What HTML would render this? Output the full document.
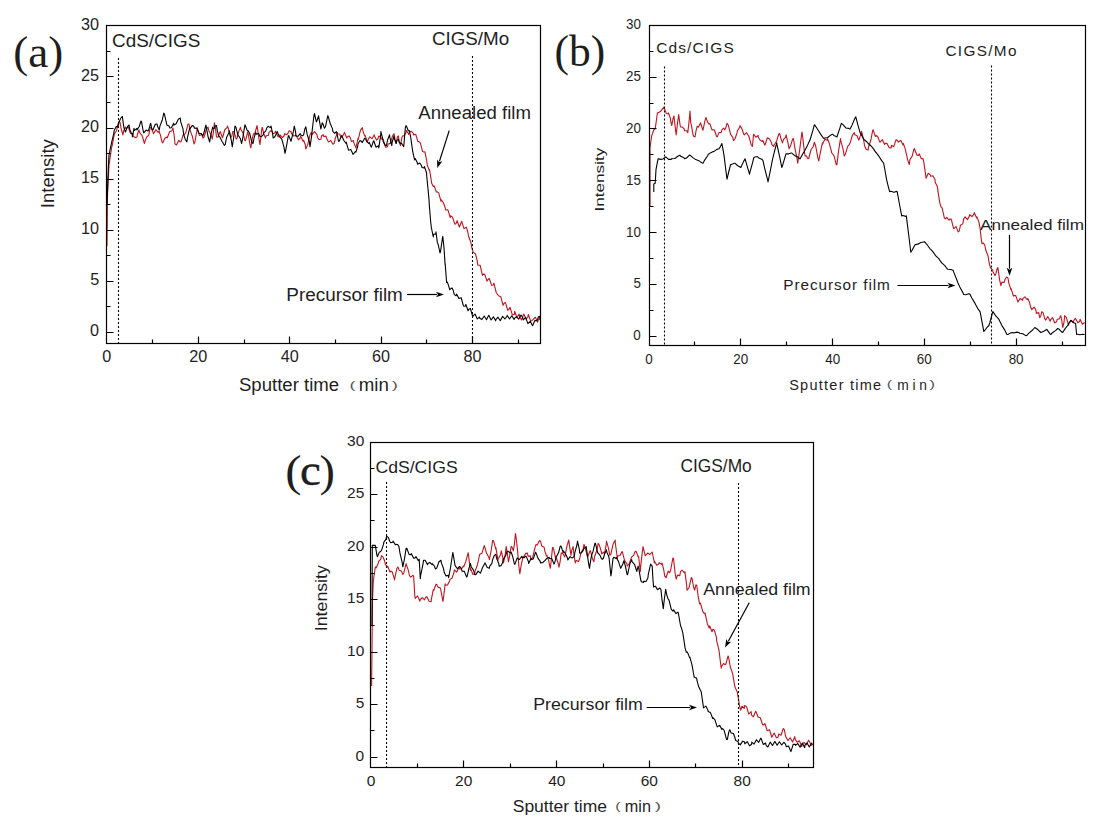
<!DOCTYPE html>
<html><head><meta charset="utf-8"><title>Sputter depth profiles</title>
<style>html,body{margin:0;padding:0;background:#fff;}svg{display:block;}text{white-space:pre;}</style>
</head><body>
<svg width="1103" height="827" viewBox="0 0 1103 827">
<rect width="1103" height="827" fill="#fff"/>
<path d="M107 246 107.3 220 107.5 195 109 165 109.8 159.67 112 145 112.1 146.21 114.4 133.63 115 133 116.7 130.19 118 124 119 121.37 120 122 121.3 129.32 123 135 123.6 131.19 125.4 127 125.9 128.5 128.2 126.86 129 129 130.5 133.49 132.8 133.55 133 136 135.1 137.62 137 137 137.4 134.2 139 130 139.7 132.77 142 135.07 144 142 144.3 143.51 146.6 137.08 148 136 148.9 134.77 150 128 151.2 127.25 153 132 153.5 133.82 155.8 129.69 158.1 132.34 159 131 160.4 135.15 162 142 162.7 143.02 165 137.95 167 137 167.3 137.78 169.6 131.79 171.9 130.65 173 128 174.2 135.97 175 144 176.5 144.99 178.8 140.31 180 142 181.1 141.78 183.4 134.17 184 135 185.7 132.94 188 124.29 189 124 190.3 130.82 192.6 137.04 194 144 194.9 142.2 197 130 197.2 127.87 199.5 135.5 201.8 134.42 203 138 204.1 136.99 206.4 129.23 208 127 208.7 130.41 211 134.65 212.2 139.2 213.3 133.11 214.4 122.9 215.6 129.42 216.5 137 217.9 137.31 219.8 132.6 220.2 131.51 222.5 137.81 223 136 224.8 129.73 227.1 127.64 227.4 126 229.4 131.4 230.7 137 231.7 136.7 232.8 131.6 234 131.71 236.3 139.06 237.2 138 238.6 131.89 240.5 127.2 240.9 129.48 243.2 133.56 244.8 140.3 245.5 140.7 247.8 131.73 248 132.6 250.1 145.16 250.8 147.9 252.4 138.05 253.5 133.7 254.7 134 257 125.66 257.3 127.2 259.3 141.22 260 144.6 261.6 130.63 262.2 127.2 263.9 133.87 265.5 138 266.2 135.81 268.5 135.2 268.8 132.6 270.8 130.76 272 131.6 273.1 133.7 275.3 132.6 275.4 131.1 277.7 136.29 279.6 137 280 134.9 282.3 137.53 284 136 284.6 133.64 286.9 134.83 288.3 132.6 289.2 130.7 291 131.6 291.5 133.65 293.8 136 296.1 135.37 297 137 298.4 139.78 300.3 138 300.7 136.16 303 141.28 303.6 140.3 305.3 144.79 305.8 149 307.6 145.13 308.5 141.3 309.9 135.26 311.2 132.6 312.2 134.49 314.5 131.6 316.8 134.32 317.7 138 319.1 139.61 321 139.2 321.4 136.05 323.3 134.8 323.7 136.47 326 136.17 326.5 138 328.3 141.87 329.8 141.3 330.6 140.28 332.9 144.27 334.1 143.5 335.2 138.8 337.4 132.6 337.5 133.82 339.8 134 340.7 137 342.1 136.87 343.9 133.7 344.4 132.37 346.7 138 347.2 137 349 135.93 350.5 138 351.3 141.44 353.6 140.61 353.7 142.4 355.9 147.9 358.1 138 358.2 139.55 360.5 130.04 362.4 127.7 362.8 130.41 364.6 135.9 365.1 135.38 367.4 141.9 367.9 140.3 369.7 136.81 371.1 137.9 372 138.67 374.3 134.73 374.4 135.9 376.6 140.12 377.7 139.2 378.9 136.06 380.9 137 381.2 138.83 383.5 139.79 384.2 143.5 385.8 147.33 387.5 146.8 388.1 143.94 390.4 143.38 390.7 141.3 392.7 135.58 394 133.7 395 139.17 396.2 143.5 397.3 137.17 398.3 135.9 399.6 142.99 400.5 145.7 401.9 137.49 402.7 135.9 404.2 135.73 406 132.6 406.5 130.45 408.8 134.42 409.2 132.6 411.1 131.08 413.3 133.3 413.4 135.07 415.7 134.26 418 141.81 418.6 141.3 420.3 142.95 422.6 151.58 424 152 424.9 151.85 426.6 160 427.2 164.82 429.3 170.6 429.5 169.58 431.8 183.58 433.3 186.5 434.1 185.91 436.4 192 437.3 191.9 438.7 192.87 441 201.34 441.3 199.8 443.3 202.51 445.2 207.8 445.6 210.01 447.9 209.81 450.2 217.59 450.6 215.8 452.5 217.14 454.8 224.11 455.9 223.8 457.1 220.81 459.4 226.96 461.7 221.26 462.5 223.8 464 228.67 466.3 227.13 467.8 231.8 468.6 236.47 470.9 242.55 471.9 247.8 473.2 252.35 475.5 253.74 477.2 261 477.8 265.14 480.1 265.2 482.4 275.47 482.5 274.4 484.7 274.1 487 281.11 487.8 279.7 489.3 278.49 491.6 285.32 493.2 285 493.9 283.21 496.2 292.48 498.5 295.7 500.8 296.84 503.1 305.34 503.8 303.7 505.4 302.29 507.7 310.3 509.1 309 510 307.25 512.3 314.94 514.5 314.3 514.6 311.31 516.9 317.48 519.2 314.1 519.8 317 521.5 320.01 523.8 314.05 526.1 319.08 527.8 317 528.4 314.5 530.7 321.39 533 319.6 535.3 317.22 537.6 322.08 538.4 319.6 539.9 317.96 540 320" fill="none" stroke="#c2141e" stroke-width="1.1" stroke-linejoin="round"/>
<path d="M107 205 108 175 109 155 109.3 153.5 110 150 111.5 143 111.6 142.52 113.9 132.85 114 131 116.2 126.48 117 127 118.5 124.85 119 122 120.8 118.12 122.4 116.5 123.1 122.34 124 128 125.4 132 127.7 126.28 129 125 130 130.41 130.4 131 132.3 134.93 132.4 137 134 128.4 134.6 130.35 136.9 128.42 137 130 139.2 126.52 141 121 141.5 121.7 143.4 132 143.8 132.89 146.1 130.08 148 131 148.4 130.83 150.4 124 150.7 123.24 152 130 153 129.67 155.3 124.26 157 124 157.6 126.45 159.3 130 159.9 126.11 162.2 120.25 163.8 113 164.5 114.35 166.3 122.4 166.8 125.01 169.1 126.06 169.8 128 171.4 127.67 173.7 123.18 173.8 125 176 124.04 178.3 119.24 180.3 118 180.6 121.44 182.9 128.69 183.8 135 185.2 139.2 186.8 142 187.5 137.31 189.7 128 189.8 128.91 192.1 125.62 193.7 126 194.4 128.25 196.7 128 197.7 130 199 133.2 201.3 133.46 202.7 136 203.6 134.01 205.7 126 205.9 125.02 208.2 137.28 209.7 142 210.5 136.7 212.7 127 212.8 128.59 214.4 128.3 215.1 126.03 216.5 125.6 217.4 131.12 218.7 136 219.7 136.77 222 141.3 224.3 145.34 225.2 144.6 226.6 137.44 228.9 132.84 229 130.5 231.2 139.77 232.3 146.8 233.5 138.78 235 126 235.8 126.87 238.1 135.79 238.8 136 240.4 138.68 241.6 143.5 242.7 138.28 244.8 125.6 245 124.82 247.3 130.66 248 130.5 249.6 133.25 251.9 142.41 253 143.5 254.2 137.26 255.7 132.6 256.5 134.15 258.8 133.59 259.5 136 261.1 136.81 263.3 134.8 263.4 133.18 265.7 131.14 266.6 128.3 268 126.26 270.3 127.63 271 126 272.6 133.42 273.1 138 274.9 136.71 277.2 131.51 277.5 132.6 279.5 136.68 281.8 139.2 284.1 147.7 285 153.3 286.4 146.8 288.3 136 288.7 135.65 291 141.3 293.3 131.85 294.3 126 295.6 132.08 296 136 297.9 136.33 300.2 133.48 300.3 134.8 302.5 135.85 303.6 134.8 304.8 129.24 305.8 126.7 307.1 134.16 308 137 309.4 141.91 310 146.8 311.7 135.32 312.3 129.4 314 115.24 314.5 113.6 316.3 121.63 316.6 121.8 318.6 115.89 318.8 117.4 320.9 129.04 321 128.3 322.2 122.9 323.2 124.33 324.4 128.3 325.5 126.52 327.8 115.67 328.2 116.3 330.1 123.23 330.9 125 332.4 128.59 333 131.6 334.7 133.32 336.3 131.6 337 133.48 338.5 141.3 339.3 141.11 341.6 135.51 341.8 136 343.9 140.51 346.1 143.5 346.2 142.15 348.5 150.21 349.4 150 350.8 149.45 352.6 153.3 353.1 154.54 355.4 151.54 355.9 152.2 357.7 146.27 358.1 143.5 360 140.45 361.3 141.3 362.3 142.62 364.6 138.16 365.7 139.2 366.9 141.84 369 143.5 369.2 142.38 371.1 146.8 371.5 147.17 373.3 141.3 373.8 140.75 375.5 145.7 376.1 147.22 378.4 145.7 378.8 147.9 380.7 135.03 380.9 131.6 383 139.86 383.1 141.3 385.3 145.38 386.4 145.7 387.6 139.76 389.6 134.8 389.9 137.42 391.8 145.7 392.2 142 394 136 394.5 139.12 396.2 143.5 396.8 140.64 398.3 139.2 399.1 142.41 400.5 143.5 401.4 143.04 403.7 146.78 403.8 145.7 405.3 128 406 125.68 406.5 126.1 408.3 130.77 409.3 130.6 410.6 136.51 412 146.6 412.9 152.29 414.6 160 415.2 158.53 417.3 162.6 417.5 164.16 419.8 163.03 421.3 165.2 422.1 167.48 424 168 424.4 166.6 426.6 173 426.7 175.76 428 189 429 199.6 429.3 205 430.6 221 431.3 227.24 433.3 237 433.6 234.27 435.9 233.88 436 231.8 437.3 242.4 438.2 244.5 440 253 440.5 251.58 442.6 237 442.8 236.47 444 247.8 445.1 264.65 445.2 263.7 446.6 282.4 447.4 282.09 449.2 287.7 449.7 289.61 452 287.91 453.2 290.3 454.3 294.61 456 295.7 456.6 294.13 458.9 298.43 460 298 461.2 297.77 463.5 306.04 465.2 306.3 465.8 304.42 468.1 310.7 469.2 309 470.4 308.52 472.7 316.65 473.2 315.6 475 314.07 477.3 318.91 479.6 317.02 479.8 318.3 481.9 319.55 484.2 316.06 486.5 319.71 487.8 317 488.8 315.21 491.1 319.96 493.4 316.81 495.7 320.8 495.8 319.6 498 317.19 500.3 320.64 502.6 316.29 504.9 318.81 506.5 317 507.2 315.44 509.5 319.03 511.8 315.75 514.1 319.5 514.5 318.3 516.4 316.81 518.7 319.14 521 315.1 522.4 317 523.3 319.9 525.6 317.35 527.9 323.65 530.2 321.28 532.5 325.71 533 325 534.8 320.53 537.1 320.66 538.4 317 539.4 316.31 540 318" fill="none" stroke="#000000" stroke-width="1.1" stroke-linejoin="round"/>
<path d="M650 206 650 148 651.6 136.2 652.3 134.13 653.8 129.7 654.6 129.3 655.2 129 656.9 116.64 657.4 113 659.2 112.13 660.3 111.6 661.5 110.13 663.8 107.32 663.9 107.2 666 112.4 666.1 113.47 668.2 113.9 668.4 112.83 670.4 118.2 670.7 121.22 671.8 125.5 673 118.68 674 116 675.3 128.09 676.2 134.9 677.6 122.56 678.7 114.6 679.9 123.75 680.5 127 682.2 126.96 684.2 129 684.5 130.82 686.8 130.81 687.8 132.7 689.1 121.17 690 111 690.7 122.6 691.4 125.34 692.9 134.2 693.7 136.3 695 137 696 130.9 697.2 126.2 698.3 127.17 700.6 122.8 700.9 124 702.9 130.26 703 129.8 705.2 119.76 706 117.5 707.5 121.86 708.8 124 709.8 123.66 712.1 129.94 713.2 129.8 714.4 130.05 716.7 136.78 717.5 136.4 719 132.63 721.3 132.45 721.9 129.8 723.6 128.22 724.8 129.8 725.9 127.55 727 123.3 728.2 124.97 729.9 131.3 730.5 134.11 732.8 137.34 733.5 140.7 735.1 138.47 737.1 132.7 737.4 130.77 739.7 127.36 740 125.5 742 129.02 743.7 134.2 744.3 134.95 746.6 132.7 748.9 136.45 749.5 138.5 751.2 144.79 752.4 146.5 753.5 135.25 753.8 134.2 755.8 137.26 758.1 135.47 758.2 137 760.4 140.57 762.5 141.4 762.7 140.2 764.7 145 765 145.03 767.3 137.8 769.6 139.08 771.6 142.9 771.9 144.59 773.8 146.5 774.2 144.69 776.5 141.39 778.8 134.01 779.6 133.5 781.1 139.36 782.5 142.9 783.4 139.68 785.7 137.16 786.1 134.9 788 142.79 789 148.7 790.3 146.55 792.6 139.1 793.4 138.5 794.9 148.09 797.2 159.35 797.7 163.2 799.5 151.37 801.8 133.01 802.1 132 804.1 149.28 805 155.9 806.4 155.88 807.9 158.8 808.7 158.51 811 149.74 813.3 146.51 814.4 142.2 815.6 145.6 817.9 157.92 818.8 161 820.2 153.09 822.4 142.9 822.5 144.4 824.8 139.2 827.1 140.26 827.5 138.5 829.4 143.73 831.1 150.1 831.7 152.77 834 155.69 836.3 164.78 836.9 164.6 838.6 150.69 840.5 138.5 840.9 141.32 843.2 149.56 844.2 155.9 845.5 153.97 847.8 145.95 848.5 145.8 850.1 143.05 852.4 135.22 854.3 132.7 854.7 134.74 857 135.68 858.7 140 859.3 139.15 861.6 131.3 863.9 141.41 864.5 145.8 866.2 149.18 868.1 150.1 868.5 147.03 870.8 140.29 872.5 131.3 873.1 129.67 875.4 136.46 876.1 135.6 877.7 136.49 879.1 140.3 880 142.16 882.3 139.68 884.6 144.45 885.1 143.4 886.9 143.23 889.2 147.66 891.2 147.9 891.5 145.32 893.8 146.66 896.1 139.66 897.2 140.3 898.4 142.1 900.7 140.22 903 144.94 903.3 143.4 905.3 149.16 907.6 159.65 909.3 164.5 909.9 159.69 912.2 156.09 913.8 149.4 914.5 148.7 916.8 154.95 918.4 155.5 919.1 153.84 921.4 158.75 922.9 158.5 923.7 161.42 925.9 176.6 926 178.3 928.3 173.3 930.5 175.1 930.6 176.33 932.9 175.82 935 179.6 935.2 182.36 937.5 186.93 938 191.7 939.8 202.81 941 206.9 942.1 207.85 944.4 218.01 945.6 218.9 946.7 217.28 949 220.07 950.1 218.9 951.3 219.36 953.6 228.63 954.6 228 955.9 226.49 958.2 231.9 959.2 231 960.5 225.24 962.8 223.87 963.7 218.9 965.1 216.82 967.4 219.61 969 216.9 969.7 214.76 972 216.63 974 213.9 974.3 212.6 976.6 217.96 977 216.9 978.9 222.09 980 227.8 981.2 238.58 982 243.8 983.5 243.01 985 245.8 985.8 250.33 988.1 256.04 988.9 261.7 990.4 267.58 992.7 270.07 992.9 271.7 995 275.52 995.9 273.7 997.3 268.06 997.9 267.7 999.6 279.83 1000.9 285.7 1001.9 282.15 1004.2 282.43 1004.9 279.7 1006.5 277.03 1007.9 277.7 1008.8 283.12 1010.9 289.6 1011.1 288.56 1013.4 296.02 1014.8 295.6 1015.7 295.42 1018 302.1 1018.8 300.6 1020.3 298.36 1022.6 300.33 1022.8 298.6 1024.9 296.83 1027.2 299.78 1027.8 298.6 1029.5 302.36 1030.8 307.6 1031.8 309.73 1034.1 307.06 1035.8 309.6 1036.4 313.39 1038.7 312.62 1039.8 317.6 1041 315.19 1041.8 311.6 1043.3 313.2 1044.7 318.6 1045.6 320.09 1047.9 316.66 1050.2 321.18 1050.7 319.6 1052.5 317.55 1054.8 322.93 1056.7 321.5 1057.1 319.58 1059.4 318.65 1060.7 315.6 1061.7 320.01 1062.7 327.5 1064 322.34 1064.7 315.6 1066.3 317.39 1068.6 325.23 1068.7 323.5 1070.9 320.48 1073.2 322.59 1073.7 320.6 1075.5 318.41 1077.8 322.7 1079.6 321.5 1080.1 319.27 1082.4 324.3 1084.6 322.5" fill="none" stroke="#c2141e" stroke-width="1.1" stroke-linejoin="round"/>
<path d="M653.8 192 653.8 184 655.2 183.3 656 169.6 656.8 165.45 658.1 158.7 659.8 159.11 661 159.4 662.8 159.06 663.2 158.7 665.8 156.94 666.1 157.2 668.8 159.64 669 159.4 671.2 159.4 671.8 158.72 674.8 158.51 675.5 158 677.8 156.23 679.8 155.2 680.8 156.33 683.8 157.63 684.9 158.8 686.8 157.75 689.8 154.94 690 155.2 692.8 157.64 695.8 159.6 698.8 160.67 701.8 162.84 703 163.2 704.8 159.86 707.8 155.48 708.1 154.5 710.8 152.66 713.2 151.6 713.8 151.58 716.8 149.36 719 148.7 719.8 147.68 721.9 143.6 722.8 148.39 724.1 155.9 725.8 169.92 727 179.2 728.8 171.5 730.6 164.6 731.8 164.38 734.2 163.2 734.8 163.2 737.8 165.78 740.8 167.5 743.8 161.13 745.1 158.8 746.8 164.94 749.5 174.1 749.8 172.67 752.8 161.78 753.8 157.4 755.8 156.69 757.4 156.7 758.8 158.11 761.8 159.25 762.9 160.3 764.8 168.77 767.8 180.69 768 182 770.8 168.28 772.3 160.3 773.8 154.13 776.7 142.9 776.8 143.76 779.8 157.46 781.8 167.5 782.8 164.57 785.8 154.53 786.1 153.8 788.8 153.84 791.2 153 791.8 153.05 794.8 155.69 795.5 155.9 797.8 157.08 799.9 158.8 800.8 157.59 803.8 151.98 804.3 151.6 806.8 146.86 809.8 140.18 810 140 812.8 130.71 814.4 124.7 815.8 126.57 818.8 131.3 821.8 135.9 823.8 138.5 824.8 137.95 827.8 137.56 828.2 137 830.8 135.07 832.5 134.2 833.8 135.39 836.8 136.71 836.9 137 839.8 128.31 841.3 123.3 842.8 124.39 845.6 127.6 845.8 128.03 848.8 128.35 850 129.1 851.8 125.63 854.8 118.59 855.8 116.8 857.8 124.57 860.1 132.7 860.8 133.63 863.8 139.18 864.5 140 866.8 141.78 869.8 145.18 870 144.9 872.8 147.92 875.8 152.37 876 152.4 878.8 156.06 881.8 160.9 883.6 163 884.8 169.27 886.6 179.6 887.8 184.65 889.6 191.7 890.8 191.29 893.8 192.18 896.8 191.37 897.2 191.7 899.8 205.99 901.7 215.9 902.8 215.53 905.8 216.38 906.3 215.9 908.8 235.79 910.8 252.2 911.8 250.8 914.8 245.19 915.3 244.6 917.8 244.16 920.8 242.45 923.8 242.07 924.4 241.6 926.8 244.27 929.8 248.54 930.5 249.2 932.8 251.62 935.8 255.94 938.8 258.6 939.5 259.8 941.8 262.81 944.8 265.6 947.1 268.8 947.8 269.28 950.8 269.45 953.1 270.3 953.8 272.35 956.8 279.79 957.7 282.4 959.8 286.89 962.8 292.42 963.7 294.5 965.8 294.79 968.8 293.8 969.8 294 971.8 297.97 974.8 302.85 975 303.6 977.8 308.56 980 311.6 980.8 315.39 983.8 331.42 983.9 331.5 986.8 327.71 988.9 325.5 989.8 322.74 992.8 311.57 992.9 311.6 995.8 315.95 998.8 319.04 998.9 319.6 1001.8 325.35 1004.8 330.14 1006.9 334.5 1007.8 334.5 1010.8 332.86 1012.8 332.5 1013.8 332.99 1016.8 332.14 1018.8 332.5 1019.8 333.31 1022.8 333.71 1025.8 335.6 1026.8 335.5 1028.8 333.12 1031.8 330.77 1034.8 327.5 1037.8 329.52 1040.8 332.5 1043.8 331.32 1046.7 329.5 1046.8 329.32 1049.8 333.65 1050.7 334.5 1052.8 332.47 1055.8 330.39 1057.7 328.5 1058.8 328.97 1061.8 332.02 1062.7 332.5 1064.8 329.1 1067.8 325.25 1070.7 320.6 1070.8 320.3 1073.8 322.75 1075.6 323.5 1076.6 334.5 1076.8 334.06 1079.8 334.78 1082.8 334.19 1084.6 334.5" fill="none" stroke="#000000" stroke-width="1.1" stroke-linejoin="round"/>
<path d="M371.6 686 372.5 600 373.3 581.3 373.9 577.01 375.3 567 376.2 567.93 378.4 562.8 378.5 561.67 380.8 559.08 381.5 555.6 383.1 557.2 384.6 560.8 385.4 564.64 387.6 567 387.7 566.23 390 572.14 390.7 571 392.3 572.03 394.6 579.86 394.8 578.2 396.9 568.41 397.9 567 399.2 570.16 401.5 571.11 402.8 574.4 403.8 572.94 406.1 563.6 408.4 570.64 409.4 575.5 410.7 577.06 413 575.24 413.7 576.6 414.8 596.2 415.3 598.51 417.6 595.85 419.9 601.19 420.3 599.5 422.2 597.55 424.5 599.89 425.7 597.3 426.8 596.62 429.1 601.21 431.2 601.7 431.4 599.08 433.3 589.7 433.7 590.47 436 584.22 436.6 584.2 438.3 587.53 439.9 587.5 440.6 589.01 442.9 601.41 443.1 600.6 445.2 583.89 445.3 585.3 447.5 584.88 449.7 581 449.8 579.38 452.1 578.16 454 572.3 454.4 569.87 456.7 572.21 459 567.17 459.5 569 461.3 568.98 463.6 565.84 463.8 566.8 465.9 561.18 468.2 552.7 470.4 570.1 470.5 568.08 472.8 574.29 474.7 574.4 475.1 570.99 477.4 564.98 479.1 557 479.7 554.26 482 553.2 484.3 545.49 484.5 546.1 486.6 553.43 487.2 554.2 488.9 557.43 489.4 559.6 491.2 550.41 492.6 540.6 493.5 540.52 495.8 549 495.9 547.6 498 560.7 498.1 558.99 500.4 555.12 501.3 550.9 502.7 557.42 503.5 562.9 505 555.98 506.2 546.6 507.3 552.85 508.4 561.8 509.6 556.23 511.1 546.6 511.9 546.87 513.3 550.9 514.2 545.75 515.5 533.5 516.5 540.49 517.6 550.9 518.8 565.47 519.8 573.8 521.1 565.58 523.1 556.3 523.4 557.54 525.7 553.39 527.4 553.1 528 556.16 530.3 555.91 530.7 558.5 532.6 558.11 532.9 556.3 534.9 547.83 536.1 544.4 537.2 545.11 539.5 540.47 540.5 541.1 541.8 546.05 544.1 547.2 544.8 550.9 546.4 555.96 547 555.3 548.7 560.74 550.3 568.3 551 562.65 552.5 547.6 553.3 547.71 555.6 558.15 555.7 556.3 557.9 562.48 559 567.2 560.2 561.05 561.2 553.1 562.5 552.89 564.4 556.3 564.8 556.99 567.1 545.36 568.8 540 569.4 545.13 571 555.3 571.7 550.41 573.1 546.6 574 554.9 575.3 562.9 576.3 560.41 578.6 561.51 579.7 558.5 580.9 552.9 583.2 548.82 584 544.4 585.5 548.59 587.3 556.3 587.8 556.45 590.1 550.68 590.5 550.9 592.4 558.5 593.8 561.8 594.7 556.28 597 549.73 598.2 543.3 599.3 544.95 601.4 552 601.6 553.84 603.9 552.02 604.4 554.2 606.2 544.64 606.5 541.1 608.5 548.41 609.8 555.3 610.8 554.43 613.1 544.01 615.2 540 615.4 543.74 617.4 558.5 617.7 556 620 555.56 621.8 552 622.3 551.54 624.6 560.65 626.9 563.92 627.2 566.1 629.2 563.95 631.5 557.05 633.8 555.06 634.8 552 636.1 551.29 638.4 557.39 638.6 556.3 640.3 571.6 640.7 565.81 643 546.6 645.3 555.79 645.7 555.3 647.6 553.04 649.9 554.47 652.2 552 654.4 562.9 654.5 561.25 656.8 565.31 658.8 564 659.1 562.57 661.4 564.41 662 562.9 663.7 569.58 664.7 575.9 666 577.8 668.3 571.04 669.6 572.7 670.6 570.45 672.9 557.98 673.5 558.5 675.2 573.77 676.2 579.2 677.5 575.1 679.8 575.65 680.5 571.6 682.1 570.17 684.4 572.98 684.9 571.6 686.7 585.64 687 590.1 689 587.83 691.3 577.59 692 578.1 693.6 587.28 694.7 590.1 695.9 584.75 696.8 585.7 698.2 596.71 699.6 603.9 700.5 603.1 702.8 611.57 704.4 613.6 705.1 613.06 707.4 623.96 709.3 628.1 709.7 625.85 712 631.71 712.9 629.3 714.3 630.19 716.5 637.7 716.6 640.54 718.9 649.76 721.2 668.16 721.4 666.8 723.5 663.54 725 664.4 725.8 664.4 728.1 655.91 728.6 657.1 730.4 667.24 732.7 673.93 733.5 678.9 735 687.09 737.3 692.14 738.3 698.2 739.6 706.24 740.7 710.3 741.9 706.27 744.2 708.36 744.4 705.5 746.5 706.52 748.8 714.19 751.1 711.55 751.6 715.2 753.4 716.71 755.7 711.26 756.5 712.8 758 717.01 760.3 717.75 762.6 724.74 763.7 724.9 764.9 723.48 767.2 730.81 769.5 729.68 771 734.5 771.8 737.23 774.1 732.97 776.4 737.75 778.2 737 778.7 734.04 781 735.22 783.3 728.48 784.3 729.7 785.6 736.27 787.9 740.6 790.2 737.72 792.5 742.01 794.8 736.67 795.2 739.4 797.1 742.28 799.4 740.72 801.7 746.49 802.4 744.2 804 742.37 806.3 744.87 808.6 740.21 809.7 741.8 810.9 745.45 813 744.2" fill="none" stroke="#c2141e" stroke-width="1.1" stroke-linejoin="round"/>
<path d="M372 625 372.3 545.4 374.6 545.4 375.3 545.4 376.9 555.18 377.4 556.7 379.2 552.37 380.5 551.5 381.5 550.37 383.5 544.4 383.8 542.34 386.1 538.75 386.6 536.2 388.4 537.65 389.7 541.3 390.7 542.68 392.8 542.3 393 540.96 395.3 544.82 395.8 544.4 397.6 544.46 398.9 546.4 399.9 552.77 402.2 562.74 402.8 566.8 404.5 558.88 406.1 548.3 406.8 548.22 409.1 554.39 410.5 554.8 411.4 553.64 413.7 558.3 414.8 558.1 416 556.62 418.3 560.66 419.2 559.2 420.3 578.8 420.6 575.54 422.9 564.56 423.5 560.3 425.2 560.29 427.5 564.77 427.9 563.6 429.8 562.5 432.1 564.62 432.2 563.6 434.4 566.09 435.5 569 436.7 568.16 439 561.81 441 560.3 441.3 562.58 443.6 568.81 444.2 572.3 445.9 575.88 448.2 575.37 448.6 577.7 450.5 567.75 452.8 552.47 452.9 552.7 455.1 565.7 457.4 568.74 459.7 566.33 461.6 569 462 571.21 464.3 571.37 466.6 576.94 467.1 576.6 468.9 568.57 470.4 563.6 471.2 566.72 473.5 570.1 474.7 574.4 475.8 574.69 478.1 571.17 480.4 573.18 481.2 571.2 482.7 567.15 485 562.9 487.3 567.44 489.4 568.3 489.6 566.44 491.9 563.31 492.6 559.6 494.2 555.68 495.9 554.2 496.5 558.1 498.8 563.71 499.1 566.1 501.1 565.62 502.4 562.9 503.4 559.09 505.7 555.51 506.8 552 508 551.08 510.3 553.02 511.1 552 512.6 556.23 514.4 564 514.9 564.32 517.2 557.81 517.6 558.5 519.5 559.54 521.8 556.23 522 557.4 524.1 557.82 525.3 556.3 526.4 556.85 528.5 561.8 528.7 563.51 531 558.48 531.8 559.6 533.3 558.84 535.6 552.16 536.1 553.1 537.9 558.13 540.2 561.36 540.5 562.9 542.5 562.74 544.8 560.7 547.1 558.08 549.2 557.4 549.4 558.37 551.7 558.47 554 564.1 554.6 562.9 556.3 556.97 558.6 552.59 560.1 546.6 560.9 545.84 563.2 552.4 563.3 550.9 565.5 553.77 567.7 558.5 567.8 559.95 570.1 556.65 571 557.4 572.4 557.88 574.2 556.3 574.7 553.22 577 544.76 577.5 541.1 579.3 549.11 579.7 553.1 581.6 552.67 582.9 550.9 583.9 548.67 586.2 546.6 588.5 562.93 589.5 568.3 590.8 559.45 591.6 555.3 593.1 551.13 594.9 543.3 595.4 543.19 597.7 552.9 598.2 553.1 600 555.33 601.4 558.5 602.3 559.29 603.3 558.5 604.6 553.98 606.5 549.8 606.9 552.5 608.7 556.3 609.2 558.94 610.9 575.9 611.5 572.26 613 558.5 613.8 557.36 616.1 558.47 616.3 557.4 618.4 561.37 620.7 568.3 623 563.72 623.9 560.7 625.3 565.79 627.2 574.8 627.6 574.67 629.9 563.75 631.6 559.6 632.2 561.97 634.5 564.28 636.5 570.5 636.8 571.43 638.1 566.1 639.1 570.11 640.8 580.3 641.4 581.81 643.5 582.5 643.7 581.33 646 581.52 647.9 578.1 648.3 574.31 650.6 564 652.2 566.1 652.9 578.7 653.6 586.9 655.2 586.17 656.6 587.9 657.5 589.79 659.8 588.02 660.9 589.4 662.1 600.45 663.3 608.7 664.4 598.47 665.7 589.4 666.7 594.54 668.1 599 669 600.15 671.3 609.29 673 611.1 673.6 609.85 675.9 613.5 677.8 612.3 678.2 612.28 680.5 625.47 681.5 628.1 682.8 632.85 685.1 647.93 686.3 652.3 687.4 652.1 689.7 657.91 689.9 657.1 692 664.82 693.6 674 694.3 677.34 696.6 678.08 697.2 681.3 698.9 687.29 700.8 691 701.2 691.79 703.2 705.5 703.5 707.92 705.8 706.09 708 710.3 708.1 711.48 710.4 712.43 712.7 718.51 712.9 717.6 715 719.87 716.5 724.9 717.3 726.91 719.6 725.21 721.9 729.37 722.6 728.5 724.2 730.52 726.5 739.35 727.4 739.4 728.8 731.87 729.8 729.7 731.1 732.92 733.4 733.53 734.7 737 735.7 740.52 738 741.46 738.3 743 740.3 744.87 742.6 741.16 744.4 741.8 744.9 743.83 747.2 741.56 749.5 745.84 751.6 744.2 751.8 742.13 754.1 744.07 756.4 739.8 758.7 742.37 760.1 739.4 761 738.11 763.3 744.51 765.6 743.02 766.1 745.4 767.9 746.98 770.2 742.11 772.5 745.52 774.8 741.4 775.8 743 777.1 745.27 779.4 741.75 781.7 745 784 742.22 785.5 744.2 786.3 746.68 788.6 746.15 790.3 750.3 790.9 751.59 793.2 744.42 795.2 744.2 795.5 745.35 797.8 743.53 800.1 747.11 802.4 743.08 804.7 747.77 804.9 745.4 807 742.92 809.3 747 811.6 743.1 812.1 744.2" fill="none" stroke="#000000" stroke-width="1.1" stroke-linejoin="round"/>
<rect x="106.5" y="25.5" width="434" height="318" fill="none" stroke="#000" stroke-width="1.2"/>
<path d="M106.5 332.5h7M106.5 306.5h4M106.5 281.5h7M106.5 255.5h4M106.5 230.5h7M106.5 204.5h4M106.5 179.5h7M106.5 153.5h4M106.5 128.5h7M106.5 102.5h4M106.5 76.5h7M106.5 51.5h4M152.5 343.5v-4M198.5 343.5v-7M244.5 343.5v-4M289.5 343.5v-7M335.5 343.5v-4M381.5 343.5v-7M426.5 343.5v-4M472.5 343.5v-7M518.5 343.5v-4" stroke="#000" stroke-width="1.2" fill="none"/>
<rect x="649.5" y="25.5" width="436" height="320" fill="none" stroke="#000" stroke-width="1.2"/>
<path d="M649.5 336.5h7M649.5 310.5h4M649.5 284.5h7M649.5 258.5h4M649.5 232.5h7M649.5 206.5h4M649.5 180.5h7M649.5 154.5h4M649.5 128.5h7M649.5 103.5h4M649.5 77.5h7M649.5 51.5h4M694.5 345.5v-4M740.5 345.5v-7M786.5 345.5v-4M832.5 345.5v-7M878.5 345.5v-4M924.5 345.5v-7M970.5 345.5v-4M1016.5 345.5v-7M1062.5 345.5v-4" stroke="#000" stroke-width="1.2" fill="none"/>
<rect x="370.5" y="442.5" width="443" height="325" fill="none" stroke="#000" stroke-width="1.2"/>
<path d="M370.5 757.5h7M370.5 730.5h4M370.5 704.5h7M370.5 678.5h4M370.5 652.5h7M370.5 625.5h4M370.5 599.5h7M370.5 573.5h4M370.5 547.5h7M370.5 520.5h4M370.5 494.5h7M370.5 468.5h4M417.5 767.5v-4M463.5 767.5v-7M510.5 767.5v-4M556.5 767.5v-7M603.5 767.5v-4M649.5 767.5v-7M695.5 767.5v-4M742.5 767.5v-7M788.5 767.5v-4" stroke="#000" stroke-width="1.2" fill="none"/>
<line x1="118.5" y1="58" x2="118.5" y2="343" stroke="#000" stroke-width="1.1" stroke-dasharray="2 2"/>
<line x1="472.5" y1="56" x2="472.5" y2="343" stroke="#000" stroke-width="1.1" stroke-dasharray="2 2"/>
<line x1="664.5" y1="66.5" x2="664.5" y2="345" stroke="#000" stroke-width="1.1" stroke-dasharray="2 2"/>
<line x1="991.5" y1="65.6" x2="991.5" y2="345" stroke="#000" stroke-width="1.1" stroke-dasharray="2 2"/>
<line x1="386.5" y1="482" x2="386.5" y2="767" stroke="#000" stroke-width="1.1" stroke-dasharray="2 2"/>
<line x1="738.5" y1="483" x2="738.5" y2="767" stroke="#000" stroke-width="1.1" stroke-dasharray="2 2"/>
<line x1="449.2" y1="130.6" x2="439.42" y2="161.33" stroke="#000" stroke-width="1.2"/><path d="M437.3 168L437.06 159.53L439.12 162.28L442.39 161.23Z" fill="#000"/>
<line x1="407" y1="294.5" x2="437" y2="294.5" stroke="#000" stroke-width="1.2"/><path d="M444 294.5L436 297.3L438 294.5L436 291.7Z" fill="#000"/>
<line x1="1009.5" y1="234.8" x2="1009.5" y2="268.7" stroke="#000" stroke-width="1.2"/><path d="M1009.5 275.7L1006.7 267.7L1009.5 269.7L1012.3 267.7Z" fill="#000"/>
<line x1="897.5" y1="285.5" x2="948.5" y2="285.5" stroke="#000" stroke-width="1.2"/><path d="M955.5 285.5L947.5 288.3L949.5 285.5L947.5 282.7Z" fill="#000"/>
<line x1="749.2" y1="602.7" x2="728.33" y2="641.24" stroke="#000" stroke-width="1.2"/><path d="M725 647.4L726.35 639.03L727.86 642.12L731.27 641.7Z" fill="#000"/>
<line x1="646.6" y1="707.5" x2="690" y2="707.5" stroke="#000" stroke-width="1.2"/><path d="M697 707.5L689 710.3L691 707.5L689 704.7Z" fill="#000"/>
<text transform="translate(89.98 336.39) scale(1 1)" font-family="Liberation Sans" font-size="16.2" fill="#1e1e1e">0</text>
<text transform="translate(90.14 285.21) scale(1 1)" font-family="Liberation Sans" font-size="16.2" fill="#1e1e1e">5</text>
<text transform="translate(81.07 234.19) scale(1 1)" font-family="Liberation Sans" font-size="16.2" fill="#1e1e1e">10</text>
<text transform="translate(81.07 183.01) scale(1 1)" font-family="Liberation Sans" font-size="16.2" fill="#1e1e1e">15</text>
<text transform="translate(81.07 131.99) scale(1 1)" font-family="Liberation Sans" font-size="16.2" fill="#1e1e1e">20</text>
<text transform="translate(81.07 80.89) scale(1 1)" font-family="Liberation Sans" font-size="16.2" fill="#1e1e1e">25</text>
<text transform="translate(81.07 29.79) scale(1 1)" font-family="Liberation Sans" font-size="16.2" fill="#1e1e1e">30</text>
<text transform="translate(102.36 361.64) scale(1 1)" font-family="Liberation Sans" font-size="16.2" fill="#1e1e1e">0</text>
<text transform="translate(189.23 361.64) scale(1 1)" font-family="Liberation Sans" font-size="16.2" fill="#1e1e1e">20</text>
<text transform="translate(280.87 361.64) scale(1 1)" font-family="Liberation Sans" font-size="16.2" fill="#1e1e1e">40</text>
<text transform="translate(372.03 361.64) scale(1 1)" font-family="Liberation Sans" font-size="16.2" fill="#1e1e1e">60</text>
<text transform="translate(463.51 361.64) scale(1 1)" font-family="Liberation Sans" font-size="16.2" fill="#1e1e1e">80</text>
<text transform="translate(633.32 340.14) scale(0.92 1)" font-family="Liberation Sans" font-size="14.6" fill="#1e1e1e">0</text>
<text transform="translate(633.45 288.28) scale(0.92 1)" font-family="Liberation Sans" font-size="14.6" fill="#1e1e1e">5</text>
<text transform="translate(625.93 236.57) scale(0.92 1)" font-family="Liberation Sans" font-size="14.6" fill="#1e1e1e">10</text>
<text transform="translate(625.93 184.71) scale(0.92 1)" font-family="Liberation Sans" font-size="14.6" fill="#1e1e1e">15</text>
<text transform="translate(625.93 133) scale(0.92 1)" font-family="Liberation Sans" font-size="14.6" fill="#1e1e1e">20</text>
<text transform="translate(625.93 81.21) scale(0.92 1)" font-family="Liberation Sans" font-size="14.6" fill="#1e1e1e">25</text>
<text transform="translate(625.93 29.43) scale(0.92 1)" font-family="Liberation Sans" font-size="14.6" fill="#1e1e1e">30</text>
<text transform="translate(645.14 363.92) scale(0.92 1)" font-family="Liberation Sans" font-size="14.6" fill="#1e1e1e">0</text>
<text transform="translate(733.18 363.92) scale(0.92 1)" font-family="Liberation Sans" font-size="14.6" fill="#1e1e1e">20</text>
<text transform="translate(825.18 363.92) scale(0.92 1)" font-family="Liberation Sans" font-size="14.6" fill="#1e1e1e">40</text>
<text transform="translate(916.78 363.92) scale(0.92 1)" font-family="Liberation Sans" font-size="14.6" fill="#1e1e1e">60</text>
<text transform="translate(1008.65 363.92) scale(0.92 1)" font-family="Liberation Sans" font-size="14.6" fill="#1e1e1e">80</text>
<text transform="translate(355.54 760.84) scale(1.04 1)" font-family="Liberation Sans" font-size="14.9" fill="#1e1e1e">0</text>
<text transform="translate(355.7 708.27) scale(1.04 1)" font-family="Liberation Sans" font-size="14.9" fill="#1e1e1e">5</text>
<text transform="translate(347.02 655.84) scale(1.04 1)" font-family="Liberation Sans" font-size="14.9" fill="#1e1e1e">10</text>
<text transform="translate(347.02 603.27) scale(1.04 1)" font-family="Liberation Sans" font-size="14.9" fill="#1e1e1e">15</text>
<text transform="translate(347.02 550.84) scale(1.04 1)" font-family="Liberation Sans" font-size="14.9" fill="#1e1e1e">20</text>
<text transform="translate(347.02 498.34) scale(1.04 1)" font-family="Liberation Sans" font-size="14.9" fill="#1e1e1e">25</text>
<text transform="translate(347.02 445.84) scale(1.04 1)" font-family="Liberation Sans" font-size="14.9" fill="#1e1e1e">30</text>
<text transform="translate(366.66 786.23) scale(1.04 1)" font-family="Liberation Sans" font-size="14.9" fill="#1e1e1e">0</text>
<text transform="translate(455.12 786.23) scale(1.04 1)" font-family="Liberation Sans" font-size="14.9" fill="#1e1e1e">20</text>
<text transform="translate(548.15 786.23) scale(1.04 1)" font-family="Liberation Sans" font-size="14.9" fill="#1e1e1e">40</text>
<text transform="translate(640.72 786.23) scale(1.04 1)" font-family="Liberation Sans" font-size="14.9" fill="#1e1e1e">60</text>
<text transform="translate(733.6 786.23) scale(1.04 1)" font-family="Liberation Sans" font-size="14.9" fill="#1e1e1e">80</text>
<text transform="translate(13.2 66.51) scale(1.02 1)" font-family="Liberation Serif" font-size="44.22" fill="#1e1e1e">(a)</text>
<text transform="translate(112.06 47.4) scale(1.03 1)" font-family="Liberation Sans" font-size="18.36" fill="#1e1e1e">CdS/CIGS</text>
<text transform="translate(431.96 45.3) scale(1.03 1)" font-family="Liberation Sans" font-size="18.22" fill="#1e1e1e">CIGS/Mo</text>
<text transform="translate(418.3 119) scale(0.97 1)" font-family="Liberation Sans" font-size="19.18" fill="#1e1e1e">Annealed film</text>
<text transform="translate(286.29 300.6) scale(1.03 1)" font-family="Liberation Sans" font-size="18.36" fill="#1e1e1e">Precursor film</text>
<text transform="translate(238.97 391.1) scale(0.97 1)" font-family="Liberation Sans" font-size="19.18" fill="#1e1e1e">Sputter time</text>
<text transform="translate(358.69 391.1) scale(1.05 1)" font-family="Liberation Sans" font-size="17.81" fill="#1e1e1e">min</text>
<text transform="translate(349.42 388.96) scale(1.56 1)" font-family="Liberation Sans" font-size="11.6" fill="#555">(</text>
<text transform="translate(391.72 388.96) scale(1.59 1)" font-family="Liberation Sans" font-size="11.6" fill="#555">)</text>
<text transform="translate(53.82 208.17) rotate(-90) scale(1.03 1)" font-family="Liberation Sans" font-size="17.98" fill="#1e1e1e">Intensity</text>
<text transform="translate(554.46 66.49) scale(0.98 1)" font-family="Liberation Serif" font-size="44.33" fill="#1e1e1e">(b)</text>
<text transform="translate(656.23 52.5) scale(1 1)" font-family="Liberation Sans" font-size="15.48" fill="#1e1e1e" letter-spacing="1.12">Cds/CIGS</text>
<text transform="translate(945.43 55.8) scale(1 1)" font-family="Liberation Sans" font-size="15.34" fill="#1e1e1e" letter-spacing="1.34">CIGS/Mo</text>
<text transform="translate(980 229.8) scale(1.15 1)" font-family="Liberation Sans" font-size="14.93" fill="#1e1e1e">Annealed film</text>
<text transform="translate(783.37 290) scale(1 1)" font-family="Liberation Sans" font-size="15.34" fill="#1e1e1e" letter-spacing="0.92">Precursor film</text>
<text transform="translate(789.17 389.6) scale(1 1)" font-family="Liberation Sans" font-size="14.52" fill="#1e1e1e" letter-spacing="1.25">Sputter time</text>
<text transform="translate(897.13 389.6) scale(1 1)" font-family="Liberation Sans" font-size="13.84" fill="#1e1e1e" letter-spacing="3.81">min</text>
<text transform="translate(886.63 388.38) scale(1.6 1)" font-family="Liberation Sans" font-size="10.11" fill="#555">(</text>
<text transform="translate(929.53 388.38) scale(1.64 1)" font-family="Liberation Sans" font-size="10.11" fill="#555">)</text>
<text transform="translate(604.13 211.55) rotate(-90) scale(1.3 1)" font-family="Liberation Sans" font-size="13.19" fill="#1e1e1e">Intensity</text>
<text transform="translate(285.35 485.58) scale(1.08 1)" font-family="Liberation Serif" font-size="45.33" fill="#1e1e1e">(</text>
<text transform="translate(299.92 484.85) scale(1.05 1)" font-family="Liberation Serif" font-size="44.58" fill="#1e1e1e" stroke="#1e1e1e" stroke-width="0.5">c</text>
<text transform="translate(319.62 485.58) scale(1.02 1)" font-family="Liberation Serif" font-size="45.33" fill="#1e1e1e">)</text>
<text transform="translate(375.41 473.4) scale(1.03 1)" font-family="Liberation Sans" font-size="17.12" fill="#1e1e1e">CdS/CIGS</text>
<text transform="translate(680.43 471.9) scale(0.99 1)" font-family="Liberation Sans" font-size="17.53" fill="#1e1e1e">CIGS/Mo</text>
<text transform="translate(703.2 595.4) scale(1.07 1)" font-family="Liberation Sans" font-size="16.58" fill="#1e1e1e">Annealed film</text>
<text transform="translate(533.18 709.8) scale(1.03 1)" font-family="Liberation Sans" font-size="17.26" fill="#1e1e1e">Precursor film</text>
<text transform="translate(512.72 812) scale(1.03 1)" font-family="Liberation Sans" font-size="16.99" fill="#1e1e1e">Sputter time</text>
<text transform="translate(624.87 812) scale(1.03 1)" font-family="Liberation Sans" font-size="15.75" fill="#1e1e1e">min</text>
<text transform="translate(615.23 810.15) scale(1.45 1)" font-family="Liberation Sans" font-size="11.17" fill="#555">(</text>
<text transform="translate(654.71 810.15) scale(1.69 1)" font-family="Liberation Sans" font-size="11.17" fill="#555">)</text>
<text transform="translate(326.98 631.19) rotate(-90) scale(1.09 1)" font-family="Liberation Sans" font-size="16.28" fill="#1e1e1e">Intensity</text>
</svg>
</body></html>
